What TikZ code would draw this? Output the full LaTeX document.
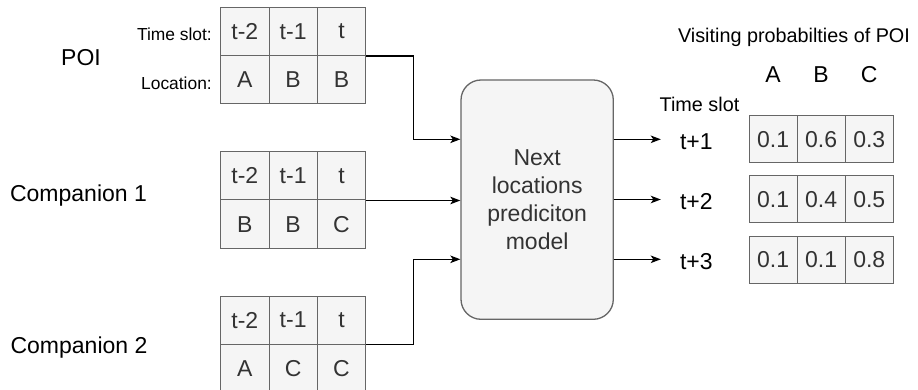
\documentclass[tikz,border=0pt]{standalone}
\usepackage{fontspec}
\setmainfont{Liberation Sans}
\usetikzlibrary{arrows.meta,calc}
\definecolor{cellfill}{HTML}{F5F5F5}
\definecolor{cellline}{HTML}{666666}
\definecolor{celltext}{HTML}{333333}

\begin{document}
\begin{tikzpicture}[x=1pt,y=-1pt,
  cell/.style={draw=cellline, fill=cellfill, line width=1pt,
    minimum width=48.3pt, minimum height=48.3pt, inner sep=0pt,
    text=celltext, font=\fontsize{23}{26}\selectfont},
  pcell/.style={cell, minimum width=48.1pt, minimum height=47pt},
  lbl/.style={inner sep=0pt, anchor=base, font=\fontsize{23}{26}\selectfont},
  midlbl/.style={inner sep=0pt, anchor=base, font=\fontsize{19.8}{23}\selectfont},
  small/.style={inner sep=0pt, anchor=base east, font=\fontsize{17.4}{20}\selectfont},
  arr/.style={-{Stealth[length=10pt,width=7.5pt,inset=2.5pt]}, line width=1.3pt, black},
]
\useasboundingbox (0,0) rectangle (918,390);

% history tables: time slots on top, visited locations below
\foreach \nm/\ty/\la/\lb/\lc in {poi/7.3/A/B/B, ca/151.7/B/B/C, cb/296/A/C/C} {
  \node[cell] (\nm-1) at (244.85,\ty+24.15) {t-2};
  \node[cell] (\nm-2) at (293.15,\ty+24.15) {t-1};
  \node[cell] (\nm-3) at (341.45,\ty+24.15) {t};
  \node[cell] (\nm-4) at (244.85,\ty+72.45) {\la};
  \node[cell] (\nm-5) at (293.15,\ty+72.45) {\lb};
  \node[cell] (\nm-6) at (341.45,\ty+72.45) {\lc};
}

% row and table labels
\node[lbl] (poiname) at (81,66) {POI};
\node[lbl] (caname) at (78.5,202) {Companion 1};
\node[lbl] (cbname) at (79,353) {Companion 2};
\node[small] (slotlbl) at (212,40.7) {Time slot:};
\node[small] (loclbl) at (212,90) {Location:};

% prediction model
\node[draw=cellline, fill=cellfill, rounded corners=20pt, line width=1.3pt,
  minimum width=152.3pt, minimum height=239.3pt, inner sep=0pt,
  align=center, text=celltext, font=\fontsize{23}{28}\selectfont]
  (model) at (537.15,199.65) {Next\\locations\\prediciton\\model};

\coordinate (in1) at (model.west |- 0,139.3);
\coordinate (in3) at (model.west |- 0,259.3);

\draw[arr] (poi-3.south east) -- ++(47.7,0) |- (in1);
\draw[arr] (ca-3.south east) -- (model.west |- ca-3.south east);
\draw[arr] (cb-3.south east) -- ++(47.7,0) |- (in3);

% predicted time slots
\node[lbl] (t1) at (696.3,149.3) {t+1};
\node[lbl] (t2) at (696.3,209.5) {t+2};
\node[lbl] (t3) at (696.3,269.5) {t+3};

\draw[arr, shorten >=19pt] (model.east |- in1) -- (in1 -| t1.west);
\draw[arr, shorten >=19pt] (model.east |- 0,199.5) -- (t2.west |- 0,199.5);
\draw[arr, shorten >=19pt] (model.east |- in3) -- (in3 -| t3.west);

% probability tables
\node[midlbl] (title) at (794,42.3) {Visiting probabilties of POI};
\node[lbl] (hA) at (773.05,83) {A};
\node[lbl] (hB) at (821.15,83) {B};
\node[lbl] (hC) at (869.25,83) {C};
\node[midlbl] (slotout) at (699.5,111.3) {Time slot};

\foreach \r/\cy/\pa/\pb/\pc in {1/139.5/0.1/0.6/0.3, 2/199.5/0.1/0.4/0.5, 3/259.5/0.1/0.1/0.8} {
  \node[pcell] (p\r-1) at (773.05,\cy) {\pa};
  \node[pcell] (p\r-2) at (821.15,\cy) {\pb};
  \node[pcell] (p\r-3) at (869.25,\cy) {\pc};
}
\end{tikzpicture}
\end{document}
